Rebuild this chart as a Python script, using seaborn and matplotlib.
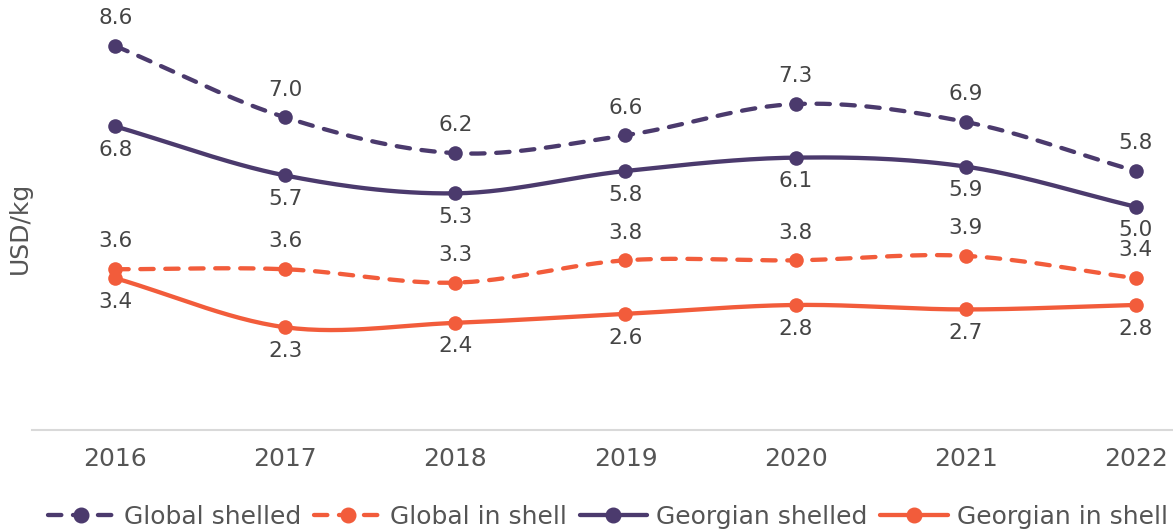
import numpy as np
import pandas as pd
import matplotlib
matplotlib.use("Agg")
import matplotlib.pyplot as plt
import seaborn as sns
from matplotlib.lines import Line2D

years = ["2016", "2017", "2018", "2019", "2020", "2021", "2022"]
global_shelled = [8.6, 7.0, 6.2, 6.6, 7.3, 6.9, 5.8]
global_in_shell = [3.6, 3.6, 3.3, 3.8, 3.8, 3.9, 3.4]
georgian_shelled = [6.8, 5.7, 5.3, 5.8, 6.1, 5.9, 5.0]
georgian_in_shell = [3.4, 2.3, 2.4, 2.6, 2.8, 2.7, 2.8]

PURPLE = "#4b3a6d"
ORANGE = "#f25c3b"
DASH = (0, (3.1, 2.7))

series = [
    ("Global shelled", global_shelled, PURPLE, DASH, "above"),
    ("Global in shell", global_in_shell, ORANGE, DASH, "above"),
    ("Georgian shelled", georgian_shelled, PURPLE, "-", "below"),
    ("Georgian in shell", georgian_in_shell, ORANGE, "-", "below"),
]


def smooth(x, y, n=30):
    # catmull-rom style spline through the points
    x = np.asarray(x, float)
    y = np.asarray(y, float)
    px = np.concatenate([[2 * x[0] - x[1]], x, [2 * x[-1] - x[-2]]])
    py = np.concatenate([[2 * y[0] - y[1]], y, [2 * y[-1] - y[-2]]])
    xs, ys = [], []
    for i in range(1, len(px) - 2):
        t = np.linspace(0, 1, n, endpoint=(i == len(px) - 3))
        for p, out in ((px, xs), (py, ys)):
            p0, p1, p2, p3 = p[i - 1], p[i], p[i + 1], p[i + 2]
            out.extend(0.5 * (2 * p1 + (-p0 + p2) * t
                              + (2 * p0 - 5 * p1 + 4 * p2 - p3) * t ** 2
                              + (-p0 + 3 * p1 - 3 * p2 + p3) * t ** 3))
    return np.array(xs), np.array(ys)


sns.set_style("white")
plt.rcParams["font.family"] = ["DejaVu Sans"]
plt.rcParams["lines.dash_capstyle"] = "round"
plt.rcParams["lines.solid_capstyle"] = "round"

fig = plt.figure(figsize=(11.73, 5.30), dpi=100)
ax = fig.add_axes([32 / 1173, 1 - 430 / 530, 1 - 32 / 1173, 430 / 530])

idx = np.arange(len(years))
handles = []
for name, vals, color, ls, pos in series:
    sx, sy = smooth(idx, vals)
    sns.lineplot(x=sx, y=sy, ax=ax, color=color, linewidth=3.1,
                 linestyle=ls, sort=False, estimator=None)
    sns.scatterplot(x=idx, y=vals, ax=ax, color=color, s=110,
                    edgecolor=color, linewidth=0, zorder=5)
    for i, v in zip(idx, vals):
        off = 20 if pos == "above" else -17
        ax.annotate(f"{v:.1f}", (i, v), xytext=(0, off), textcoords="offset points",
                    ha="center", va="center", fontsize=15.5, color="#444444")
    handles.append(Line2D([0], [0], color=color, linestyle=ls, linewidth=3.1,
                          marker="o", markersize=10.5, label=name,
                          dash_capstyle="round", solid_capstyle="round"))

ax.set_xlim(-0.49, 6.22)
ax.set_ylim(0.0, 9.63)
ax.set_xticks(idx)
ax.set_xticklabels(years)
ax.set_yticks([])
ax.tick_params(axis="x", length=0, pad=12, labelsize=18, labelcolor="#555555")
ax.set_ylabel("USD/kg", fontsize=18, color="#555555")
ax.yaxis.set_label_coords(0.0, 0.47)
for side in ["top", "right", "left"]:
    ax.spines[side].set_visible(False)
ax.spines["bottom"].set_color("#d9d9d9")
ax.spines["bottom"].set_linewidth(1.5)

fig.legend(handles=handles, loc="center", bbox_to_anchor=(0.518, 1 - 517 / 530),
           ncol=4, frameon=False, fontsize=18, handlelength=2.7,
           columnspacing=0.5, handletextpad=0.36, labelcolor="#555555",
           borderpad=0, borderaxespad=0)

fig.savefig("out.png", dpi=100)
